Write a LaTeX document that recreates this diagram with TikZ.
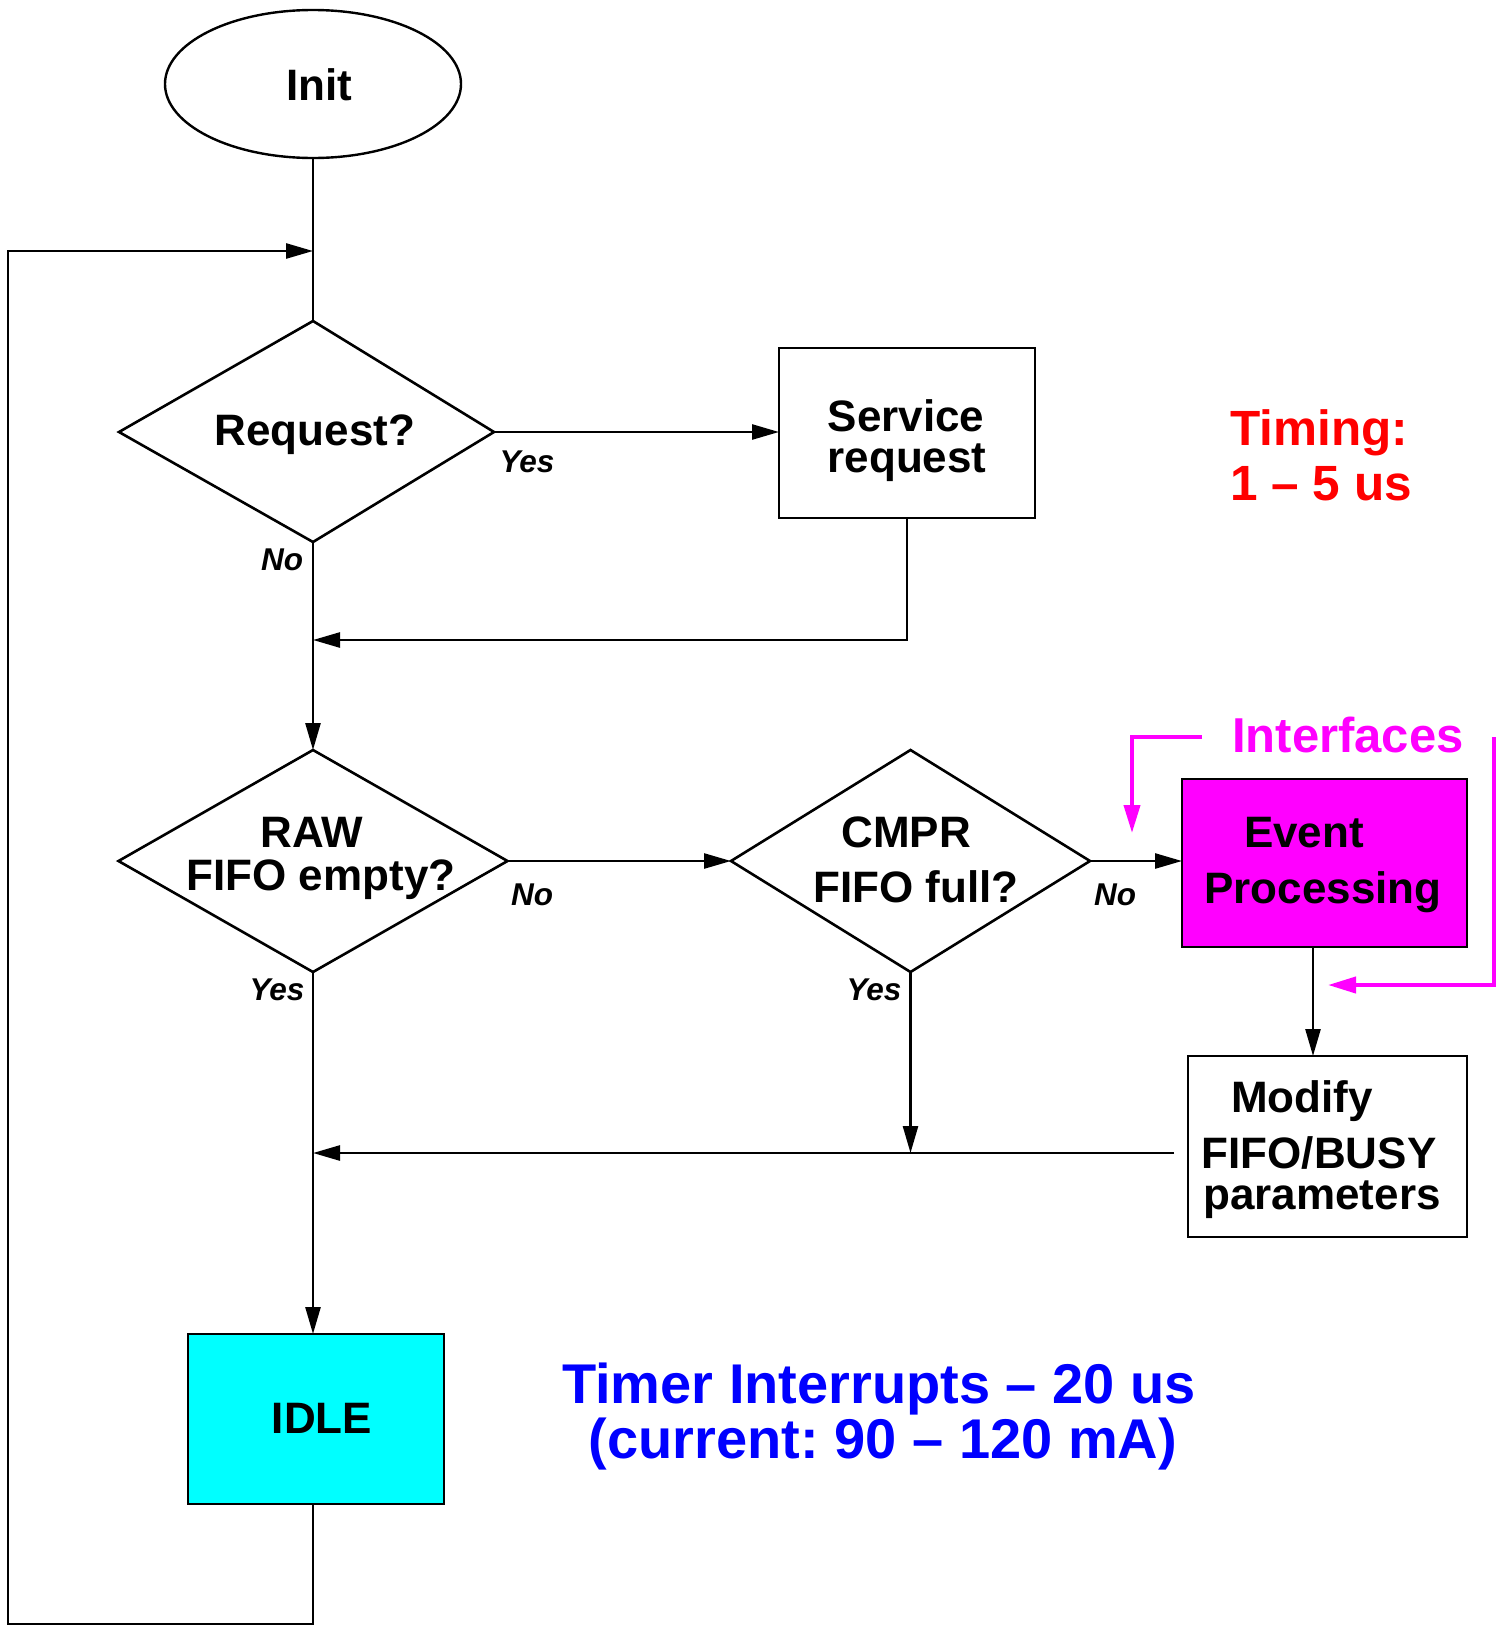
\documentclass[tikz,border=0pt]{standalone}
\usepackage{fontspec}
\setmainfont{Liberation Sans}
\usetikzlibrary{shapes.geometric,arrows.meta}
\definecolor{mag}{RGB}{255,0,255}
\definecolor{cyn}{RGB}{0,255,255}
\definecolor{rd}{RGB}{255,0,0}
\definecolor{bl}{RGB}{0,0,255}
\frenchspacing
\begin{document}
\begin{tikzpicture}[x=1pt,y=-1pt,
  ln/.style={line width=2.6pt},
  arr/.style={line width=2.6pt,-{Triangle[length=27pt,width=15pt]}},
  marr/.style={line width=4pt,draw=mag,-{Triangle[length=28pt,width=16pt]}},
  shp/.style={draw,line width=2.6pt,inner sep=0pt,outer sep=0pt},
  dia/.style={shp,diamond},
  box/.style={shp,rectangle},
  txt/.style={font=\fontsize{44}{46}\selectfont\bfseries,inner sep=0pt,anchor=base},
  lbl/.style={font=\fontsize{31.5}{33}\selectfont\bfseries\itshape,inner sep=0pt,anchor=base},
]
\useasboundingbox (0,0) rectangle (1506,1625);
\fill[white] (0,0) rectangle (1506,1625);

% shapes
\node[shp,ellipse,line width=2.4pt,minimum width=296pt,minimum height=148pt] (init) at (313,84) {};
\coordinate (reqT) at (313,321);
\coordinate (reqR) at (494,432);
\coordinate (reqB) at (313,542);
\coordinate (reqL) at (119,432);
\draw[line width=2.6pt,line join=miter] (reqT) -- (reqR) -- (reqB) -- (reqL) -- cycle;
\node[box,minimum width=256pt,minimum height=170pt] (svc) at (907,433) {};
\node[dia,minimum width=389pt,minimum height=222pt] (raw) at (313,861) {};
\node[dia,minimum width=359pt,minimum height=222pt] (cmpr) at (910.5,861) {};
\node[box,fill=mag,minimum width=285pt,minimum height=168pt] (evt) at (1324.5,863) {};
\node[box,minimum width=279pt,minimum height=181pt] (mod) at (1327.5,1146.5) {};
\node[box,fill=cyn,minimum width=256pt,minimum height=170pt] (idle) at (316,1419) {};

% texts
\node[txt] (tinit) at (319,100) {Init};
\node[txt] (treq) at (315,445) {Request?};
\node[txt] (tsvc1) at (906,431) {Service};
\node[txt] (tsvc2) at (907,472) {request};
\node[txt] (traw1) at (312,847) {RAW};
\node[txt] (traw2) at (321,890) {FIFO empty?};
\node[txt] (tcm1) at (906,847) {CMPR};
\node[txt] (tcm2) at (916,902) {FIFO full?};
\node[txt] (tev1) at (1304,847) {Event};
\node[txt] (tev2) at (1323,903) {Processing};
\node[txt] (tmo1) at (1302,1112) {Modify};
\node[txt] (tmo2) at (1319,1168) {FIFO/BUSY};
\node[txt] (tmo3) at (1322,1209) {parameters};
\node[txt] (tidle) at (322,1433) {IDLE};

% branch labels
\node[lbl] (y1) at (527,472) {Yes};
\node[lbl] (n1) at (282,570) {No};
\node[lbl] (n2) at (532,905) {No};
\node[lbl] (n3) at (1115,905) {No};
\node[lbl] (y2) at (277,1000) {Yes};
\node[lbl] (y3) at (874,1000) {Yes};

% annotations
\node[font=\fontsize{49.5}{52}\selectfont\bfseries,text=rd,inner sep=0pt,anchor=base west] (tim1) at (1230,445) {Timing:};
\node[font=\fontsize{49.5}{52}\selectfont\bfseries,text=rd,inner sep=0pt,anchor=base west] (tim2) at (1230,500) {1 – 5 us};
\node[font=\fontsize{49}{52}\selectfont\bfseries,text=mag,inner sep=0pt,anchor=base west] (intf) at (1232,752) {Interfaces};
\node[font=\fontsize{56}{58}\selectfont\bfseries,text=bl,inner sep=0pt,anchor=base] (tmr1) at (879,1403) {Timer Interrupts – 20 us};
\node[font=\fontsize{56}{58}\selectfont\bfseries,text=bl,inner sep=0pt,anchor=base] (tmr2) at (883,1458) {(current: 90 – 120 mA)};

% coordinates
\coordinate (merge) at (313,251);
\coordinate (loopL) at (8,1624);
\coordinate (m1) at (313,640);
\coordinate (m2) at (313,1153);
\coordinate (modout) at (1174,1153);
\coordinate (ex) at (1313,0);
\coordinate (ia) at (1202,737);
\coordinate (ib) at (1132,833);
\coordinate (ic) at (1494,737);
\coordinate (id) at (1328,985);

% connectors
\draw[ln] (init.south) -- (reqT);
\draw[arr] (idle.south -| merge) |- (loopL) |- (merge);
\draw[arr] (reqR) -- (reqR -| svc.west);
\draw[arr] (svc.south) |- (m1);
\draw[arr] (reqB) -- (raw.north);
\draw[arr] (raw.east) -- (cmpr.west);
\draw[arr] (cmpr.east) -- (cmpr.east -| evt.west);
\draw[arr] (evt.south -| ex) -- (mod.north -| ex);
\draw[arr] (modout) -- (m2);
\draw[arr] (cmpr.south) -- (cmpr.south |- m2);
\draw[arr] (raw.south) -- (raw.south |- idle.north);

% interface brackets
\draw[marr] (ia) -| (ib);
\draw[marr] (ic) |- (id);
\end{tikzpicture}
\end{document}
